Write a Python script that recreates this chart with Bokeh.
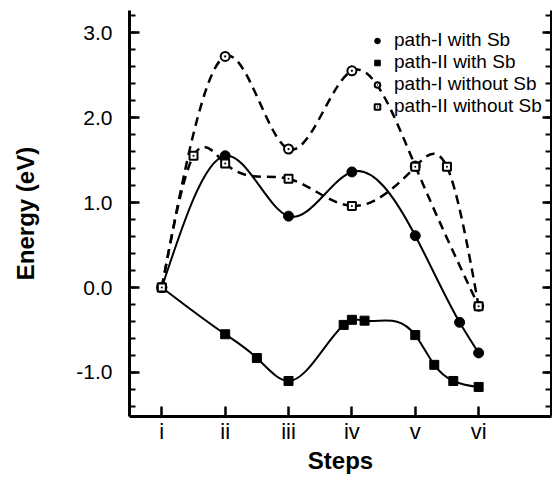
import numpy as np
from bokeh.plotting import figure
from bokeh.models import LinearAxis, FixedTicker, Range1d, Legend, LegendItem
from bokeh.embed import file_html
from bokeh.resources import INLINE

# ---- data ----
step_ticks = [1, 2, 3, 4, 5, 6]
step_labels = ["i", "ii", "iii", "iv", "v", "vi"]
energy_ticks = [-1, 0, 1, 2, 3]
energy_labels = ["-1.0", "0.0", "1.0", "2.0", "3.0"]

p1s_x = [1, 2, 3, 4, 5, 5.7, 6]
p1s_y = [0.0, 1.55, 0.84, 1.36, 0.61, -0.41, -0.77]

p2s_x = [1, 2, 2.5, 3, 3.87, 4.0, 4.2, 5, 5.3, 5.6, 6]
p2s_y = [0.0, -0.55, -0.83, -1.10, -0.44, -0.38, -0.39, -0.56, -0.91, -1.10, -1.17]

p1n_x = [1, 2, 3, 4, 5, 6]
p1n_y = [0.0, 2.72, 1.63, 2.55, 1.43, -0.22]

p2n_x = [1, 1.5, 2, 3, 4, 5, 5.5, 6]
p2n_y = [0.0, 1.55, 1.46, 1.28, 0.96, 1.42, 1.42, -0.22]

series_names = ["path-I with Sb", "path-II with Sb", "path-I without Sb", "path-II without Sb"]


def spline_bezier(xs, ys):
    """Natural cubic spline through the points, expressed as Bezier segments."""
    x = np.asarray(xs, float)
    y = np.asarray(ys, float)
    n = len(x)
    h = np.diff(x)
    A = np.zeros((n, n))
    b = np.zeros(n)
    A[0, 0] = 1
    A[-1, -1] = 1
    for i in range(1, n - 1):
        A[i, i - 1] = h[i - 1]
        A[i, i] = 2 * (h[i - 1] + h[i])
        A[i, i + 1] = h[i]
        b[i] = 6 * ((y[i + 1] - y[i]) / h[i] - (y[i] - y[i - 1]) / h[i - 1])
    M = np.linalg.solve(A, b)
    s = np.diff(y) / h
    d0 = s - h * (2 * M[:-1] + M[1:]) / 6
    d1 = s + h * (M[:-1] + 2 * M[1:]) / 6
    return dict(x0=x[:-1], y0=y[:-1], x1=x[1:], y1=y[1:],
                cx0=x[:-1] + h / 3, cy0=y[:-1] + d0 * h / 3,
                cx1=x[1:] - h / 3, cy1=y[1:] - d1 * h / 3)


FONT = "Liberation Sans"

p = figure(width=552, height=485,
           x_range=Range1d(0.49, 7.15), y_range=Range1d(-1.518, 3.26),
           output_backend="svg", toolbar_location=None,
           min_border_left=129, min_border_right=1,
           min_border_top=10, min_border_bottom=69)
p.grid.visible = False
p.outline_line_color = None

# bottom axis
xa = p.xaxis[0]
xa.ticker = FixedTicker(ticks=step_ticks)
xa.major_label_overrides = {t: l for t, l in zip(step_ticks, step_labels)}
xa.axis_label = "Steps"

# left axis
ya = p.yaxis[0]
minor = [round(v, 1) for v in np.arange(-1.4, 3.21, 0.2)]
ya.ticker = FixedTicker(ticks=energy_ticks, minor_ticks=minor)
ya.major_label_overrides = {t: l for t, l in zip(energy_ticks, energy_labels)}
ya.axis_label = "Energy (eV)"

# right axis (ticks only)
ra = LinearAxis(ticker=FixedTicker(ticks=energy_ticks, minor_ticks=minor))
ra.major_label_text_font_size = "0px"
ra.major_label_text_color = None
ra.major_label_standoff = 0
p.add_layout(ra, "right")

for ax in [xa, ya, ra]:
    ax.axis_line_width = 3
    ax.major_tick_line_width = 2.5
    ax.minor_tick_line_width = 2
    ax.major_tick_out = 0
    ax.major_tick_in = 10
    ax.minor_tick_out = 0
    ax.minor_tick_in = 6
    ax.major_label_text_font = FONT
    ax.axis_label_text_font = FONT
    ax.axis_label_text_font_style = "bold"
    ax.axis_label_text_color = "black"
xa.major_label_text_color = "black"
ya.major_label_text_color = "black"
xa.minor_tick_line_color = None
xa.major_label_text_font_size = "22px"
xa.major_label_standoff = 2
xa.axis_label_text_font_size = "24px"
xa.axis_label_standoff = 0
ya.major_label_text_font_size = "21px"
ya.major_label_standoff = 17
ya.axis_label_text_font_size = "24px"
ya.axis_label_standoff = 34
ra.major_tick_in = 9

# curves
solid = dict(line_color="black", line_width=2)
dashed = dict(line_color="black", line_width=2.5, line_dash="9 6")
for xs, ys, st in [(p1s_x, p1s_y, solid), (p2s_x, p2s_y, solid),
                   (p1n_x, p1n_y, dashed), (p2n_x, p2n_y, dashed)]:
    p.bezier(source=spline_bezier(xs, ys), x0="x0", y0="y0", x1="x1", y1="y1",
             cx0="cx0", cy0="cy0", cx1="cx1", cy1="cy1", **st)

# markers
r1 = p.scatter(p1s_x, p1s_y, marker="circle", size=10, fill_color="black", line_color="black")
r2 = p.scatter(p2s_x, p2s_y, marker="square", size=9, fill_color="black", line_color="black")
r3 = p.scatter(p1n_x, p1n_y, marker="circle_dot", size=9, fill_color="white",
               line_color="black", line_width=2)
r4 = p.scatter(p2n_x, p2n_y, marker="square_dot", size=8, fill_color="white",
               line_color="black", line_width=2)

legend = Legend(items=[LegendItem(label=n, renderers=[r]) for n, r in
                       zip(series_names, [r1, r2, r3, r4])],
                location=(241, 299))
legend.border_line_color = None
legend.background_fill_alpha = 0
legend.label_text_font = FONT
legend.label_text_font_size = "19px"
legend.label_text_color = "black"
legend.glyph_width = 14
legend.glyph_height = 19
legend.label_height = 19
legend.spacing = 0
legend.padding = 0
legend.margin = 0
legend.label_standoff = 10
p.add_layout(legend)

open("out.html", "w").write(file_html(p, INLINE))
